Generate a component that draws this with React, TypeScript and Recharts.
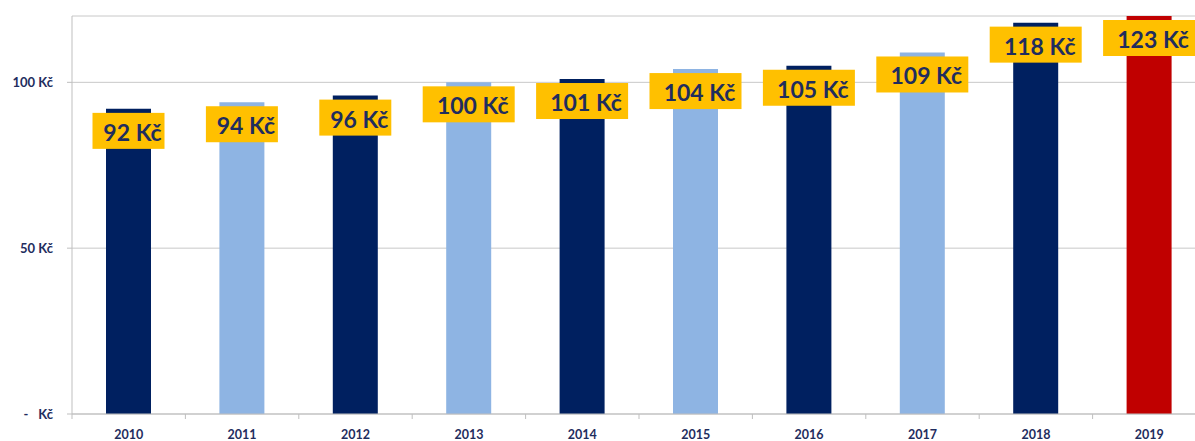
import React from 'react';
import { BarChart, Bar, XAxis, YAxis, CartesianGrid, Cell } from 'recharts';

const years = ['2010', '2011', '2012', '2013', '2014', '2015', '2016', '2017', '2018', '2019'];
const prices = [92, 94, 96, 100, 101, 104, 105, 109, 118, 123];
const barColors = ['#002060', '#8EB4E3', '#002060', '#8EB4E3', '#002060', '#8EB4E3', '#002060', '#8EB4E3', '#002060', '#C00000'];
const yTicks = [0, 50, 100];

const data = years.map((year, i) => ({ year, price: prices[i] }));

const PLOT_TOP = 16;
const HALF_BAND = 56.7;
const NAVY = '#1F2D5E';
const FONT = 'Lato, "Open Sans", sans-serif';

const YTick = (props: any) => {
  const { x, y, payload } = props;
  if (payload.value === 0) {
    return (
      <g>
        <text x={26} y={y} textAnchor="middle" dominantBaseline="central" fontSize={13} fontWeight={700} fill={NAVY} fontFamily={FONT}>-</text>
        <text x={x} y={y} textAnchor="end" dominantBaseline="central" fontSize={13} fontWeight={700} fill={NAVY} fontFamily={FONT}>Kč</text>
      </g>
    );
  }
  return (
    <text x={x} y={y} textAnchor="end" dominantBaseline="central" fontSize={13} fontWeight={700} fill={NAVY} fontFamily={FONT}>
      {payload.value} Kč
    </text>
  );
};

const XTick = (props: any) => {
  const { x, y, payload, index } = props;
  return (
    <g>
      <line x1={x - HALF_BAND} x2={x - HALF_BAND} y1={y} y2={y + 5} stroke="#BFBFBF" />
      {index === years.length - 1 && (
        <line x1={x + HALF_BAND} x2={x + HALF_BAND} y1={y} y2={y + 5} stroke="#BFBFBF" />
      )}
      <text x={x} y={y + 20} textAnchor="middle" dominantBaseline="central" fontSize={12.5} fontWeight={700} fill={NAVY} fontFamily={FONT}>
        {payload.value}
      </text>
    </g>
  );
};

const renderLabel = (props: any) => {
  const { x, y, width, value } = props;
  const top = Math.max(y, PLOT_TOP);
  const cx = x + width / 2;
  const cy = top + 22;
  const w = String(value).length > 2 ? 92 : 72;
  const h = 36;
  return (
    <g>
      <rect x={cx - w / 2} y={cy - h / 2} width={w} height={h} fill="#FFC000" />
      <text x={cx + 4} y={cy + 1} textAnchor="middle" dominantBaseline="central" fontSize={23} fontWeight={700} fill={NAVY} fontFamily={FONT}>
        {value} Kč
      </text>
    </g>
  );
};

export default function App() {
  return (
    <div style={{ position: 'absolute', left: 0, top: 0, width: 1195, height: 441, overflow: 'hidden', background: '#fff' }}>
      <BarChart width={1210} height={441} data={data} margin={{ top: PLOT_TOP, right: 4, bottom: 0, left: 0 }}>
        <CartesianGrid horizontal vertical={false} stroke="#C8C8C8" />
        <XAxis
          dataKey="year"
          height={27}
          axisLine={{ stroke: '#BFBFBF' }}
          tickLine={false}
          tickSize={0}
          tickMargin={0}
          tick={<XTick />}
          interval={0}
        />
        <YAxis
          width={72}
          domain={[0, 120]}
          allowDataOverflow
          ticks={yTicks}
          axisLine={{ stroke: '#BFBFBF' }}
          tickLine={{ stroke: '#BFBFBF' }}
          tickSize={5}
          tickMargin={14}
          tick={<YTick />}
        />
        <Bar dataKey="price" barSize={45} isAnimationActive={false} label={renderLabel}>
          {data.map((d, i) => (
            <Cell key={d.year} fill={barColors[i]} />
          ))}
        </Bar>
      </BarChart>
    </div>
  );
}
